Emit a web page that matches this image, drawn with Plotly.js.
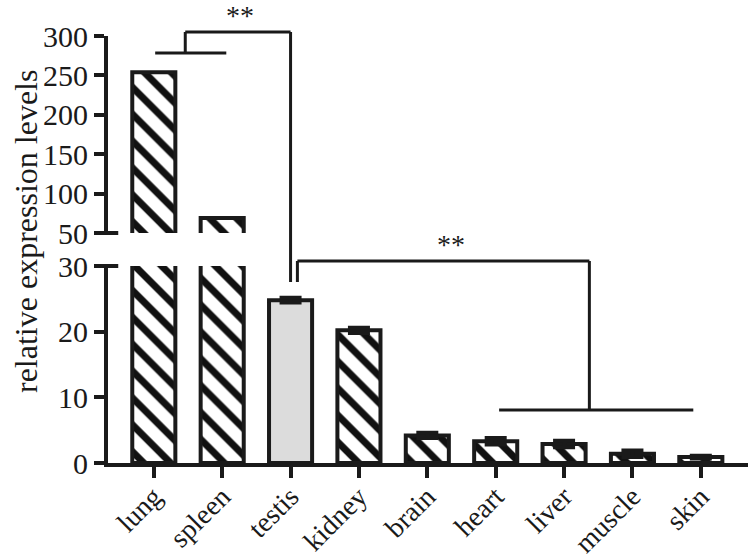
<!DOCTYPE html>
<html>
<head>
<meta charset="utf-8">
<script src="https://cdn.plot.ly/plotly-3.0.1.min.js"></script>
<style>
  html, body { margin: 0; padding: 0; background: #fff; }
  #chart { width: 751px; height: 560px; }
</style>
</head>
<body>
<div id="chart"></div>
<script>
// tissue expression, broken y axis (0-30 below, 50-300 above)
const tissues = ['lung', 'spleen', 'testis', 'kidney', 'brain', 'heart', 'liver', 'muscle', 'skin'];
const expression = [254, 69, 24.8, 20.2, 4.2, 3.3, 2.9, 1.4, 0.9];
const expressionErr = [0, 0, 0.35, 0.4, 0.4, 0.5, 0.5, 0.5, 0.2];
// testis is the plain grey bar, the rest are hatched
const stripeColor = ['#111', '#111', '#dcdcdc', '#111', '#111', '#111', '#111', '#111', '#111'];
const barFill = ['white', 'white', '#dcdcdc', 'white', 'white', 'white', 'white', 'white', 'white'];

const ink = '#1a1a1a';
const serif = 'Liberation Serif, Times New Roman, serif';

// paper fractions for pixel rows (plot area from y=20 to y=463)
const py = px => (463 - px) / 443;

function barMarker() {
    return {
        color: 'white',
        line: { color: ink, width: 4 },
        pattern: { shape: '\\', fgcolor: stripeColor, bgcolor: barFill, size: 19, solidity: 0.37, fillmode: 'replace' }
    };
}

const lower = {
    x: tissues, y: expression, type: 'bar', xaxis: 'x', yaxis: 'y',
    width: 0.63, marker: barMarker(),
    error_y: { type: 'data', array: expressionErr, visible: true, color: ink, thickness: 4, width: 11 },
    hoverinfo: 'x+y'
};
const upper = {
    x: tissues, y: expression, type: 'bar', xaxis: 'x', yaxis: 'y2',
    width: 0.63, marker: barMarker(), hoverinfo: 'x+y'
};

function seg(x0, y0, x1, y1) {
    return { type: 'line', xref: 'x', yref: 'paper', x0: x0, y0: py(y0), x1: x1, y1: py(y1),
             line: { color: ink, width: 3 } };
}
function brk(yPx) {
    return { type: 'line', xref: 'paper', yref: 'paper', x0: -0.012, x1: 0.016, y0: py(yPx), y1: py(yPx),
             line: { color: ink, width: 4 } };
}

const shapes = [
    // lung+spleen vs testis
    seg(0.02, 53, 1.06, 53),
    seg(0.46, 53, 0.46, 32),
    seg(0.46, 32, 2.0, 32),
    seg(2.0, 32, 2.0, 282),
    // testis vs the rest
    seg(2.1, 282, 2.1, 261),
    seg(2.1, 261, 6.37, 261),
    seg(6.37, 261, 6.37, 410),
    seg(5.05, 410, 7.89, 410),
    brk(233), brk(266)
];

const layout = {
    width: 751, height: 560,
    margin: { l: 108, r: 3, t: 20, b: 97 },
    paper_bgcolor: 'white', plot_bgcolor: 'white',
    showlegend: false,
    barmode: 'overlay',
    font: { family: serif, color: ink },
    xaxis: {
        range: [-0.67, 8.69], anchor: 'y',
        showline: true, linewidth: 4, linecolor: ink,
        ticks: 'outside', ticklen: 11, tickwidth: 4, tickcolor: ink,
        tickangle: -45, ticklabelstandoff: -9,
        tickfont: { family: serif, size: 28, color: ink },
        showgrid: false, zeroline: false
    },
    yaxis: {
        domain: [0, py(266)], range: [0, 30], anchor: 'x',
        tickvals: [0, 10, 20, 30],
        showline: true, linewidth: 4, linecolor: ink,
        ticks: 'outside', ticklen: 10, tickwidth: 4, tickcolor: ink,
        tickfont: { family: serif, size: 30, color: ink },
        showgrid: false, zeroline: false
    },
    yaxis2: {
        domain: [py(233), py(36)], range: [50, 300], anchor: 'x',
        tickvals: [50, 100, 150, 200, 250, 300],
        showline: true, linewidth: 4, linecolor: ink,
        ticks: 'outside', ticklen: 10, tickwidth: 4, tickcolor: ink,
        tickfont: { family: serif, size: 30, color: ink },
        showgrid: false, zeroline: false
    },
    shapes: shapes,
    annotations: [
        { text: 'relative expression levels', xref: 'paper', yref: 'paper',
          x: (26 - 108) / 640, y: py(232), xanchor: 'center', yanchor: 'middle',
          textangle: -90, showarrow: false,
          font: { family: serif, size: 32, color: ink } },
        { text: '**', xref: 'x', yref: 'paper', x: 1.26, y: py(16), xanchor: 'center', yanchor: 'middle',
          showarrow: false, font: { family: serif, size: 28, color: ink } },
        { text: '**', xref: 'x', yref: 'paper', x: 4.34, y: py(244), xanchor: 'center', yanchor: 'middle',
          showarrow: false, font: { family: serif, size: 28, color: ink } }
    ]
};

Plotly.newPlot('chart', [lower, upper], layout, { displayModeBar: false });
</script>
</body>
</html>
